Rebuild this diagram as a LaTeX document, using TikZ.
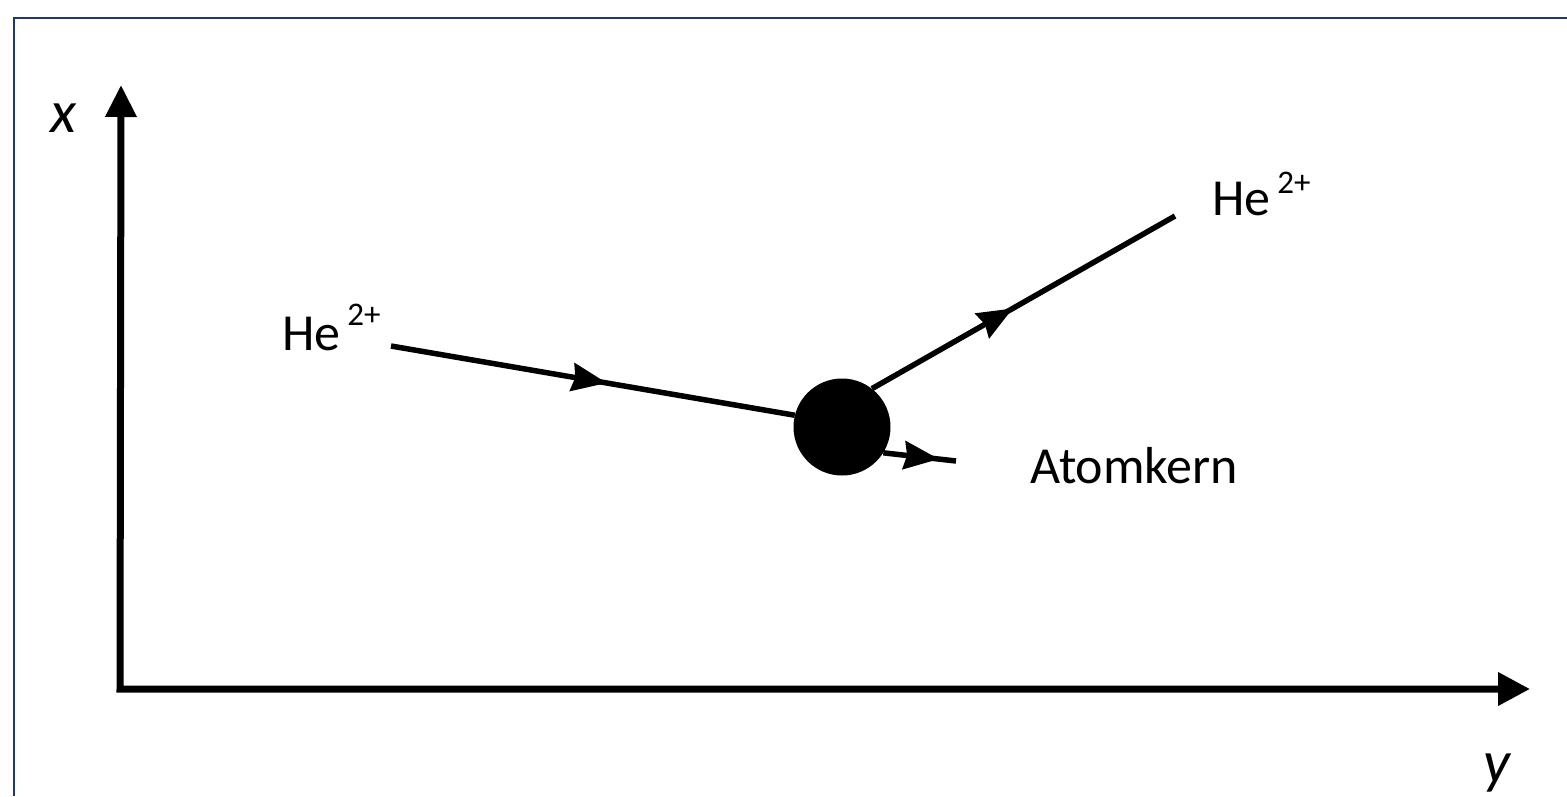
\documentclass[tikz,border=0pt]{standalone}
\usepackage{fontspec}
\setmainfont{Carlito}
\usetikzlibrary{arrows.meta,decorations.markings}
\definecolor{framecol}{RGB}{31,56,110}
\begin{document}
\begin{tikzpicture}[x=1pt,y=-1pt,
  axis/.style={line width=7pt,{Triangle[length=32pt,width=30pt]}-{Triangle[length=32pt,width=32pt]}},
  traj/.style={line width=5.5pt},
  lbl/.style={anchor=base west,inner sep=0pt,font=\fontsize{52}{62}\selectfont},
  axlbl/.style={anchor=base west,inner sep=0pt,font=\fontsize{60}{72}\selectfont\itshape},
  midarrow/.style={postaction={decorate},decoration={markings,mark=at position #1 with {\arrow{Stealth[length=35pt,width=28pt,inset=3pt]}}}},
  nucleus/.style={circle,fill=black,inner sep=0pt,minimum size=97pt}
]
\useasboundingbox (0,0) rectangle (1567,796);
\draw[framecol,line width=2.5pt] (14,796) -- (14,18) -- (1567,18);

% axes
\coordinate (xtip) at (121,85);
\coordinate (origin) at (120,689);
\coordinate (ytip) at (1530,689);
\draw[axis] (xtip) -- (origin) -- (ytip);
\node[axlbl] (xl) at (50,132) {x};
\node[axlbl] (yl) at (1483,782) {y};

% nucleus
\node[nucleus] (nuc) at (842,427) {};

% trajectories
\coordinate (in) at (391,346);
\coordinate (out) at (1175,216);
\coordinate (kend) at (956,461);
\draw[traj,midarrow=219pt] (in) -- (nuc.166);
\draw[traj,midarrow=162pt] (nuc.52) -- (out);
\draw[traj,midarrow=56pt] (nuc.-32) -- (kend);

% labels
\node[lbl] (hein) at (282,350) {He\hspace{7pt}\raisebox{25pt}{\fontsize{33}{39}\selectfont 2+}};
\node[lbl] (heout) at (1212,215) {He\hspace{7pt}\raisebox{22pt}{\fontsize{33}{39}\selectfont 2+}};
\node[lbl] (atom) at (1030,483) {Atomkern};
\end{tikzpicture}
\end{document}
